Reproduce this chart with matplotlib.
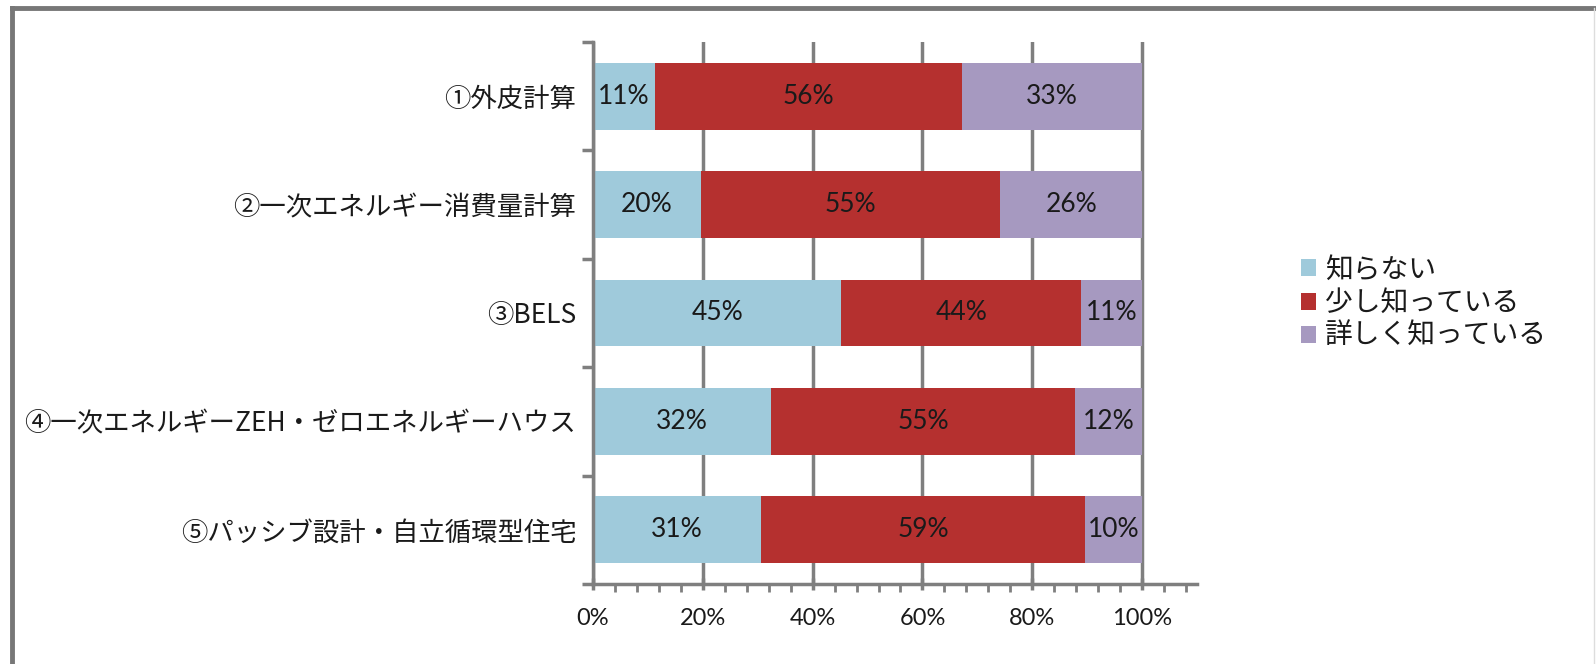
import matplotlib
matplotlib.use("Agg")
import matplotlib.pyplot as plt
from matplotlib.lines import Line2D
from matplotlib.ticker import FixedLocator, PercentFormatter
import numpy as np

categories = ["①外皮計算", "②一次エネルギー消費量計算", "③BELS",
              "④一次エネルギーZEH・ゼロエネルギーハウス", "⑤パッシブ設計・自立循環型住宅"]
series_names = ["知らない", "少し知っている", "詳しく知っている"]
shiranai = [11.3, 19.6, 45.2, 32.4, 30.6]
sukoshi = [55.9, 54.6, 43.7, 55.4, 59.0]
kuwashiku = [32.8, 25.8, 11.1, 12.2, 10.4]
series_vals = [shiranai, sukoshi, kuwashiku]
colors = ["#9FCADB", "#B5302F", "#A699C0"]

JP = ["Noto Sans CJK JP", "DejaVu Sans"]
NUM = ["Lato", "DejaVu Sans"]
TXT = "#1a1a1a"
GRID = "#7f7f7f"

fig = plt.figure(figsize=(15.96, 6.64), dpi=100)
ax = fig.add_axes([593/1596, 1-584/664, (1197-593)/1596, (584-42)/664])

y = np.arange(len(categories))
left = np.zeros(len(categories))
for name, vals, c in zip(series_names, series_vals, colors):
    vals = np.array(vals)
    bars = ax.barh(y, vals, left=left, height=0.615, color=c, label=name, zorder=3)
    for b, v in zip(bars, vals):
        ax.text(b.get_x() + b.get_width()/2, b.get_y() + b.get_height()/2,
                f"{v:.0f}%", ha="center", va="center", fontsize=19,
                family=NUM, color=TXT, zorder=4)
    left += vals

ax.set_xlim(0, 110)
ax.set_ylim(len(categories)-0.5, -0.5)
ax.xaxis.set_major_locator(FixedLocator([0, 20, 40, 60, 80, 100]))
ax.xaxis.set_minor_locator(FixedLocator([v for v in range(4, 110, 4) if v % 20 != 0]))
ax.xaxis.set_major_formatter(PercentFormatter(100, decimals=0))
ax.set_yticks(y)
ax.set_yticklabels(categories, family=JP, fontsize=19, color=TXT)
ax.yaxis.set_minor_locator(FixedLocator(np.arange(-0.5, len(categories), 1.0)))
ax.tick_params(axis="y", which="major", length=0, pad=12)
ax.tick_params(axis="y", which="minor", length=8, width=2.5, color=GRID, direction="out")
ax.tick_params(axis="x", which="major", length=9, width=2.5, color=GRID, direction="inout",
               labelsize=17, pad=13, labelcolor=TXT)
ax.tick_params(axis="x", which="minor", length=6, width=2, color=GRID, direction="out")
for lab in ax.get_xticklabels():
    lab.set_family(NUM)

ax.grid(axis="x", which="major", color=GRID, linewidth=2.5, zorder=1)
for s in ["top", "right"]:
    ax.spines[s].set_visible(False)
for s in ["left", "bottom"]:
    ax.spines[s].set_color(GRID)
    ax.spines[s].set_linewidth(2.5)
    ax.spines[s].set_zorder(5)

leg = fig.legend(loc="center left", bbox_to_anchor=(1276/1596, 1-303/664), frameon=False,
                 prop={"family": JP, "size": 20}, handlelength=0.55, handleheight=0.55,
                 handletextpad=0.3, labelspacing=0.12)
for t in leg.get_texts():
    t.set_color(TXT)

# outer chart border
fig.add_artist(Line2D([12/1596, 12/1596], [0, 1-8/664], transform=fig.transFigure,
                      color="#777777", linewidth=3.5))
fig.add_artist(Line2D([12/1596, 1594/1596], [1-8/664, 1-8/664], transform=fig.transFigure,
                      color="#777777", linewidth=3.5))
fig.add_artist(Line2D([1594/1596, 1594/1596], [0, 1-8/664], transform=fig.transFigure,
                      color="#dddddd", linewidth=1))

fig.savefig("out.png", dpi=100)
